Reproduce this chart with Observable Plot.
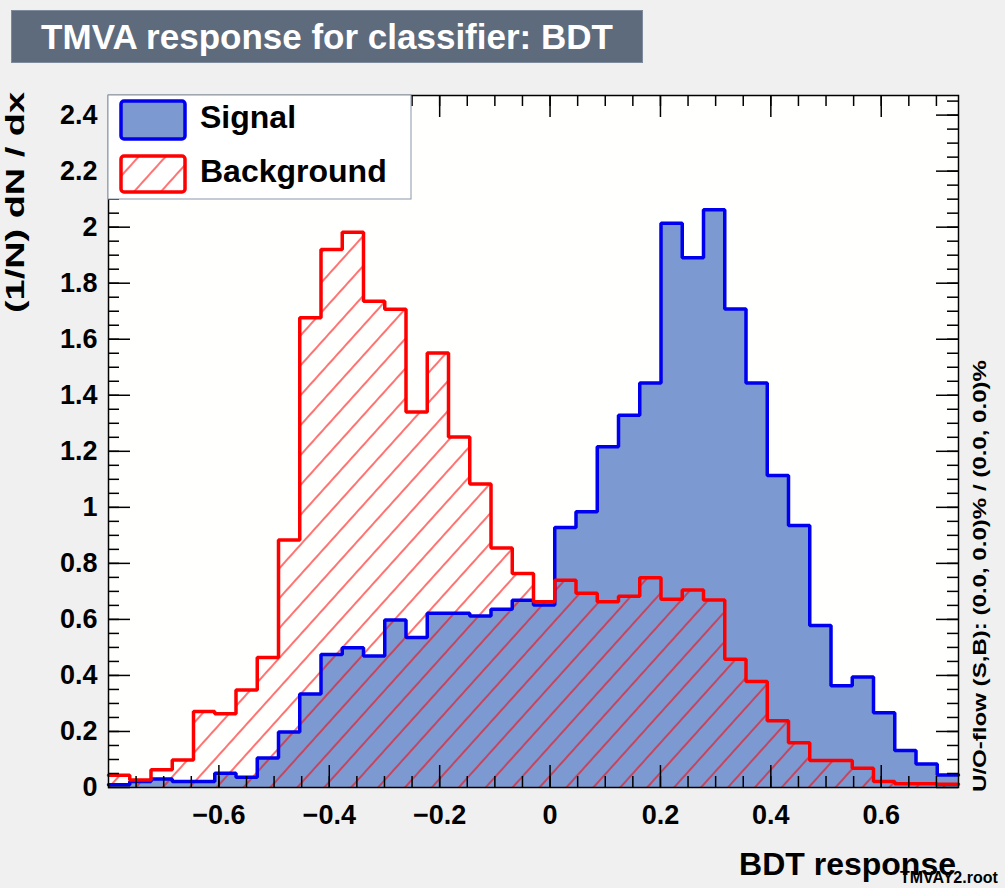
<!DOCTYPE html>
<html>
<head>
<meta charset="utf-8">
<script src="https://cdn.jsdelivr.net/npm/d3@7"></script>
<script src="https://cdn.jsdelivr.net/npm/@observablehq/plot@0.6"></script>
<style>
  html, body { margin: 0; padding: 0; background: #f0f0f0; }
  #page { position: relative; width: 1005px; height: 888px; overflow: hidden; }
  #header { position: relative; height: 70px; }
  #title {
    position: absolute; left: 11px; top: 10px; width: 630px; height: 51px;
    background: #5D6B7D; border: 1px solid #7D8B9D; color: #ffffff;
    font-family: "Liberation Sans", Arial, sans-serif; font-weight: bold; font-size: 35px;
    display: flex; align-items: center; justify-content: center; white-space: nowrap;
  }
  #chart svg { display: block; }
</style>
</head>
<body>
<div id="page">
  <div id="header"><div id="title">TMVA response for classifier: BDT</div></div>
  <div id="chart"></div>
</div>
<script>
// ---- data ----
const xMin = -0.8;
const xMax = 0.74;
const nBins = 40;
const signal = [
  0.010, 0.021, 0.030, 0.021, 0.021, 0.051, 0.037, 0.105, 0.198, 0.334,
  0.475, 0.499, 0.469, 0.598, 0.535, 0.622, 0.622, 0.612, 0.636, 0.668,
  0.651, 0.928, 0.984, 1.216, 1.329, 1.444, 2.014, 1.891, 2.062, 1.708,
  1.444, 1.114, 0.935, 0.578, 0.363, 0.394, 0.267, 0.132, 0.084, 0.045
];
const background = [
  0.044, 0.027, 0.063, 0.098, 0.271, 0.263, 0.348, 0.464, 0.883, 1.677,
  1.920, 1.982, 1.736, 1.707, 1.340, 1.551, 1.251, 1.083, 0.855, 0.764,
  0.663, 0.740, 0.693, 0.663, 0.683, 0.749, 0.672, 0.705, 0.669, 0.458,
  0.378, 0.238, 0.160, 0.096, 0.096, 0.069, 0.021, 0.013, 0.013, 0.012
];
const xTickValues = [-0.6, -0.4, -0.2, 0, 0.2, 0.4, 0.6];
const yTickValues = [0, 0.2, 0.4, 0.6, 0.8, 1, 1.2, 1.4, 1.6, 1.8, 2, 2.2, 2.4];
const seriesNames = ["Signal", "Background"];
const xTitle = "BDT response";
const yTitle = "(1/N) dN / dx";
const flowText = "U/O-flow (S,B): (0.0, 0.0)% / (0.0, 0.0)%";
const fileText = "TMVAY2.root";

// ---- derived ----
const edges = d3.range(nBins + 1).map(i => xMin + i * (xMax - xMin) / nBins);
const steps = vals => vals.flatMap((v, i) => [{x: edges[i], y: v}, {x: edges[i + 1], y: v}]);
const sigSteps = steps(signal);
const bkgSteps = steps(background);
const xMinor = d3.range(-0.75, xMax, 0.05);
const yMinor = d3.range(0.05, 2.47, 0.05);

const W = 1005, H = 818;
const mL = 108, mR = 47, mT = 25, mB = 101;
const pw = W - mL - mR, ph = H - mT - mB;
const majorLen = 22, minorLen = 11;
const fmt = d3.format("~g");

const chart = Plot.plot({
  width: W, height: H,
  marginLeft: mL, marginRight: mR, marginTop: mT, marginBottom: mB,
  style: {background: "transparent", fontFamily: "'Liberation Sans', Arial, sans-serif", fontWeight: "bold", color: "black"},
  x: {domain: [xMin, xMax]},
  y: {domain: [0, 2.47]},
  marks: [
    Plot.frame({fill: "#fffffd", stroke: null}),
    Plot.area(sigSteps, {x1: "x", y1: 0, y2: "y", fill: "#7d99d1"}),
    Plot.area(bkgSteps, {x1: "x", y1: 0, y2: "y", fill: "url(#bkgHatch)"}),
    Plot.line(sigSteps, {x: "x", y: "y", stroke: "#0000ee", strokeWidth: 3.5, strokeLinejoin: "miter"}),
    Plot.line(bkgSteps, {x: "x", y: "y", stroke: "#ff0000", strokeWidth: 3.5, strokeLinejoin: "miter"}),
    // inward ticks (ROOT style) on all four sides
    Plot.ruleX(xTickValues, {x: d => d, insetTop: ph - majorLen, stroke: "black", strokeWidth: 1.5, ariaLabel: "ticks"}),
    Plot.ruleX(xMinor, {x: d => d, insetTop: ph - minorLen, stroke: "black", strokeWidth: 1.5}),
    Plot.ruleX(xTickValues, {x: d => d, insetBottom: ph - majorLen, stroke: "black", strokeWidth: 1.5}),
    Plot.ruleX(xMinor, {x: d => d, insetBottom: ph - minorLen, stroke: "black", strokeWidth: 1.5}),
    Plot.ruleY(yTickValues, {y: d => d, insetRight: pw - majorLen, stroke: "black", strokeWidth: 1.5}),
    Plot.ruleY(yMinor, {y: d => d, insetRight: pw - minorLen, stroke: "black", strokeWidth: 1.5}),
    Plot.ruleY(yTickValues, {y: d => d, insetLeft: pw - majorLen, stroke: "black", strokeWidth: 1.5}),
    Plot.ruleY(yMinor, {y: d => d, insetLeft: pw - minorLen, stroke: "black", strokeWidth: 1.5}),
    Plot.frame({stroke: "black", strokeWidth: 1.5}),
    Plot.axisX(xTickValues, {anchor: "bottom", tickSize: 0, tickPadding: 17, fontSize: 27, fontWeight: "bold", tickFormat: fmt, label: null}),
    Plot.axisY(yTickValues, {anchor: "left", tickSize: 0, tickPadding: 11, fontSize: 27, fontWeight: "bold", tickFormat: fmt, label: null})
  ]
});
document.getElementById("chart").appendChild(chart);

// ---- decorations ----
const svg = d3.select(chart);
const defs = svg.insert("defs", ":first-child");
const pat = defs.append("pattern")
  .attr("id", "bkgHatch").attr("patternUnits", "userSpaceOnUse")
  .attr("width", 20).attr("height", 20)
  .attr("patternTransform", "rotate(42)");
pat.append("rect").attr("width", 20).attr("height", 20).attr("fill", "none");
pat.append("line").attr("x1", 1).attr("y1", 0).attr("x2", 1).attr("y2", 20)
  .attr("stroke", "#ff0000").attr("stroke-width", 1.1);

// legend (drawn beneath the tick marks)
const tickNode = svg.select('[aria-label="ticks"]').node();
const leg = tickNode ? svg.insert("g", () => tickNode) : svg.append("g");
leg.attr("font-family", "'Liberation Sans', Arial, sans-serif").attr("font-weight", "bold").attr("text-anchor", "start");
leg.append("rect").attr("x", mL).attr("y", mT).attr("width", 303).attr("height", 104)
  .attr("fill", "#ffffff").attr("stroke", "#8a97a8").attr("stroke-width", 1);
leg.append("rect").attr("x", 121).attr("y", 31).attr("width", 64).attr("height", 38).attr("rx", 3)
  .attr("fill", "#7d99d1").attr("stroke", "#0000ee").attr("stroke-width", 3.5);
leg.append("rect").attr("x", 121).attr("y", 86).attr("width", 64).attr("height", 36).attr("rx", 3)
  .attr("fill", "url(#bkgHatch)").attr("stroke", "#ff0000").attr("stroke-width", 3.5);
leg.append("text").attr("x", 200).attr("y", 58).attr("font-size", 32).attr("fill", "black").attr("text-anchor", "start").text(seriesNames[0]);
leg.append("text").attr("x", 200).attr("y", 112).attr("font-size", 32).attr("fill", "black").attr("text-anchor", "start").text(seriesNames[1]);

// axis titles and side texts
const txt = svg.append("g").attr("font-family", "'Liberation Sans', Arial, sans-serif").attr("font-weight", "bold").attr("fill", "black");
txt.append("text").attr("transform", "translate(24,22) rotate(-90)")
  .attr("text-anchor", "end").attr("font-size", 25)
  .attr("textLength", 221).attr("lengthAdjust", "spacingAndGlyphs").text(yTitle);
txt.append("text").attr("x", 956).attr("y", 805).attr("text-anchor", "end").attr("font-size", 32).text(xTitle);
txt.append("text").attr("transform", "translate(986,722) rotate(-90)")
  .attr("text-anchor", "start").attr("font-size", 18)
  .attr("textLength", 432).attr("lengthAdjust", "spacingAndGlyphs").text(flowText);
txt.append("text").attr("x", 900).attr("y", 813).attr("text-anchor", "start").attr("font-size", 16).text(fileText);
</script>
</body>
</html>
